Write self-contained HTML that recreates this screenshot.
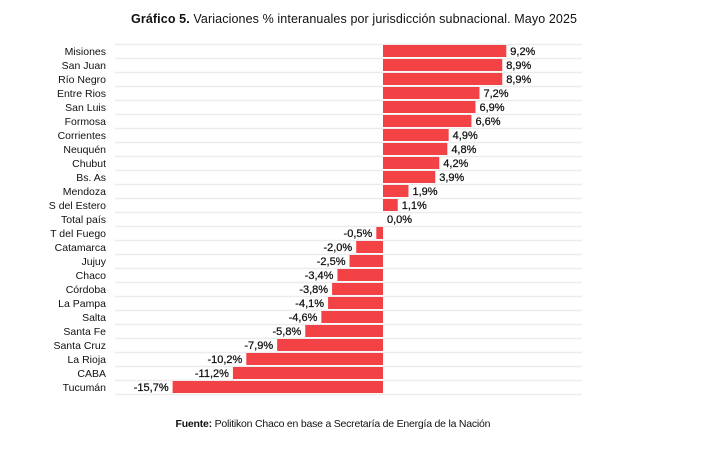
<!DOCTYPE html><html><head><meta charset="utf-8"><style>
body{margin:0;background:#fff;width:713px;height:457px;overflow:hidden;font-family:"Liberation Sans",sans-serif}
</style></head><body>
<svg width="713" height="457" xmlns="http://www.w3.org/2000/svg" font-family="Liberation Sans, sans-serif">
<text x="354" y="23" text-anchor="middle" font-size="12.5" fill="#111" textLength="446"><tspan font-weight="bold">Gráfico 5.</tspan> Variaciones % interanuales por jurisdicción subnacional. Mayo 2025</text>
<g id="c"></g>
<text x="333" y="427" text-anchor="middle" font-size="10.5" fill="#111" textLength="315"><tspan font-weight="bold">Fuente:</tspan> Politikon Chaco en base a Secretaría de Energía de la Nación</text>
</svg>
<script>
const d=[["Misiones",9.2],["San Juan",8.9],["Río Negro",8.9],["Entre Rios",7.2],["San Luis",6.9],["Formosa",6.6],["Corrientes",4.9],["Neuquén",4.8],["Chubut",4.2],["Bs. As",3.9],["Mendoza",1.9],["S del Estero",1.1],["Total país",0.0],["T del Fuego",-0.5],["Catamarca",-2.0],["Jujuy",-2.5],["Chaco",-3.4],["Córdoba",-3.8],["La Pampa",-4.1],["Salta",-4.6],["Santa Fe",-5.8],["Santa Cruz",-7.9],["La Rioja",-10.2],["CABA",-11.2],["Tucumán",-15.7]];
let s="";const z=383,k=13.4;
for(let i=0;i<=25;i++){const y=44.5+14*i;s+=`<line x1="115" x2="582" y1="${y}" y2="${y}" stroke="#ececec" stroke-width="1.5"/>`;}
d.forEach((r,i)=>{const c=51+14*i,v=r[1],w=Math.abs(v)*k;const x=v>=0?z:z-w;
s+=`<text x="106" y="${c+4}" text-anchor="end" font-size="10.5" fill="#111">${r[0]}</text>`;
if(w>0)s+=`<rect x="${x}" y="${c-6}" width="${w}" height="12" fill="#f24246"/>`;
const l=v.toFixed(1).replace('.',',')+'%';
if(v>=0)s+=`<text x="${z+w+4}" y="${c+4}" font-size="11" fill="#111" stroke="#111" stroke-width="0.25">${l}</text>`;
else s+=`<text x="${z-w-4}" y="${c+4}" text-anchor="end" font-size="11" fill="#111" stroke="#111" stroke-width="0.25">${l}</text>`;});
document.getElementById("c").innerHTML=s;
</script>
</body></html>
